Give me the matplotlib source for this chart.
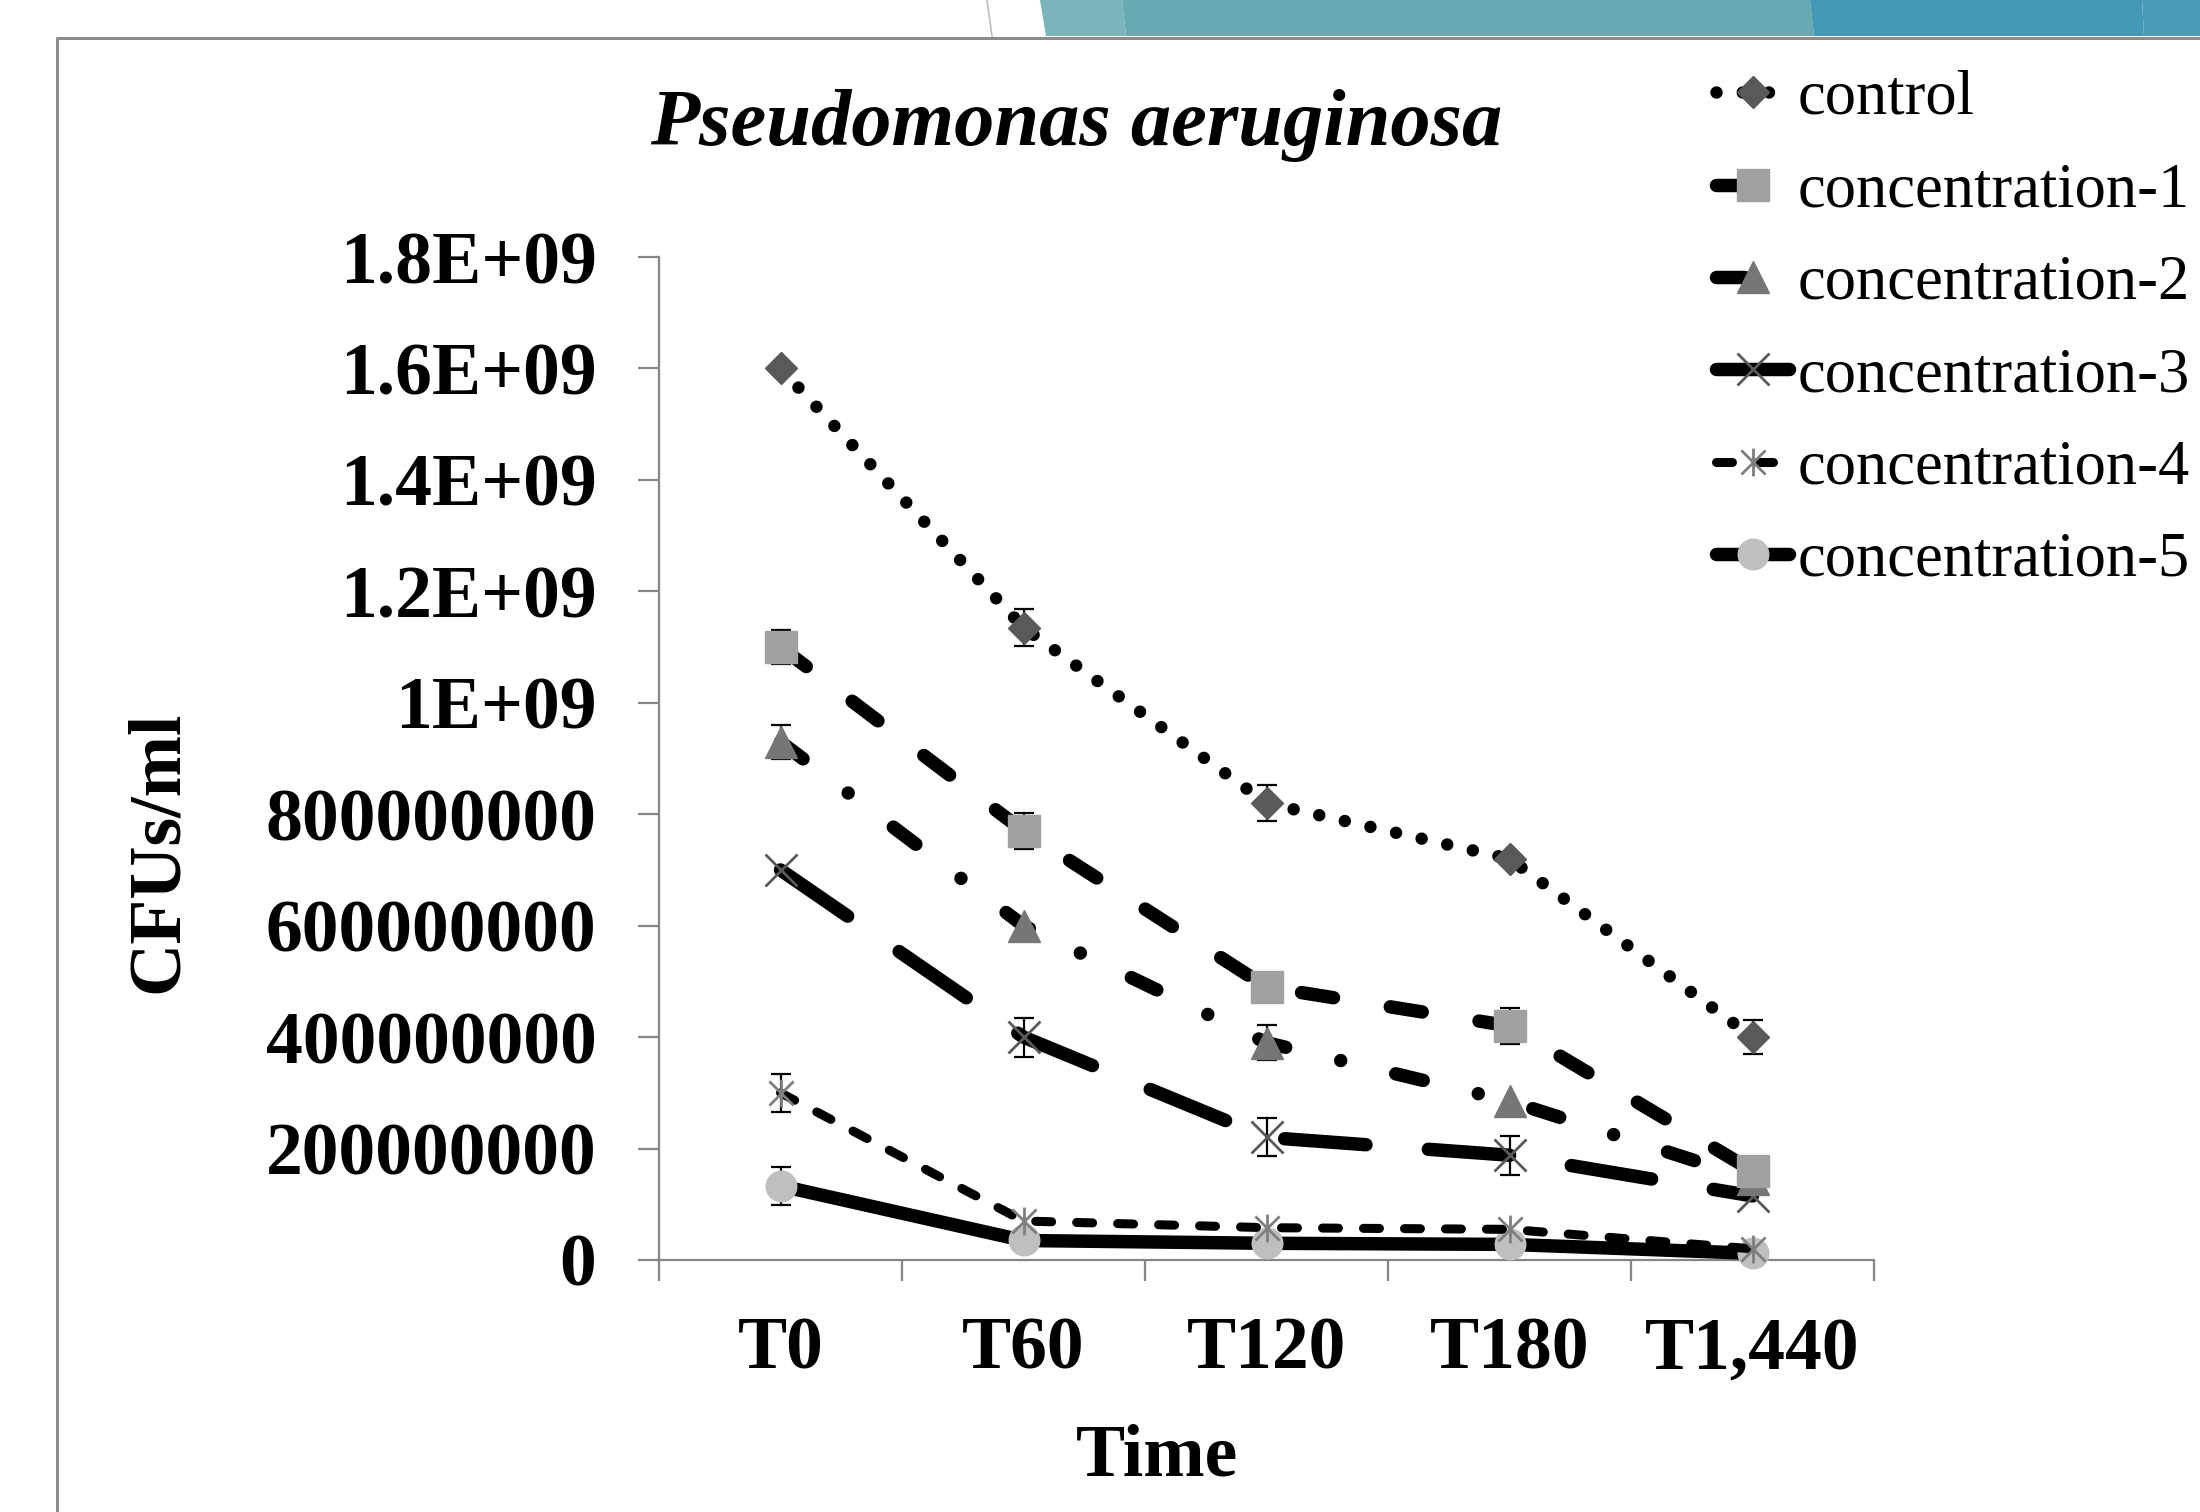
import numpy as np
import matplotlib
matplotlib.use("Agg")
import matplotlib.pyplot as plt
from matplotlib.patches import Polygon
from matplotlib.lines import Line2D
from matplotlib.path import Path

# data
times = ["T0", "T60", "T120", "T180", "T1,440"]
series_names = ["control", "concentration-1", "concentration-2",
                "concentration-3", "concentration-4", "concentration-5"]

control = [1.60e9, 1.135e9, 8.2e8, 7.2e8, 4.0e8]
conc1 = [1.10e9, 7.7e8, 4.9e8, 4.2e8, 1.6e8]
conc2 = [9.3e8, 6.0e8, 3.9e8, 2.85e8, 1.45e8]
conc3 = [7.0e8, 4.0e8, 2.2e8, 1.88e8, 1.15e8]
conc4 = [3.0e8, 7.0e7, 5.8e7, 5.5e7, 2.0e7]
conc5 = [1.33e8, 3.5e7, 3.0e7, 2.8e7, 1.2e7]

# error bars (0 = no bar drawn)
control_err = [0, 3.4e7, 3.3e7, 0, 3.1e7]
conc1_err = [3.0e7, 3.2e7, 0, 3.2e7, 0]
conc2_err = [3.0e7, 0, 3.1e7, 0, 0]
conc3_err = [0, 3.5e7, 3.4e7, 3.5e7, 0]
conc4_err = [3.4e7, 0, 0, 0, 0]
conc5_err = [3.4e7, 0, 0, 0, 0]

yticks = [0, 2e8, 4e8, 6e8, 8e8, 1e9, 1.2e9, 1.4e9, 1.6e9, 1.8e9]
ytick_labels = ["0", "200000000", "400000000", "600000000", "800000000",
                "1E+09", "1.2E+09", "1.4E+09", "1.6E+09", "1.8E+09"]

SERIF = "Liberation Serif"
W, H = 2200, 1512

fig = plt.figure(figsize=(22, 15.12), dpi=100, facecolor="white")


def px(x, y):
    return (x / W, 1 - y / H)


# slide decoration: banner and frame
def band(xs_top, xs_bot, color):
    pts = [px(xs_top[0], 0), px(xs_top[1], 0), px(xs_bot[1], 36), px(xs_bot[0], 36)]
    fig.patches.append(Polygon(pts, closed=True, transform=fig.transFigure,
                               facecolor=color, edgecolor="none", zorder=0))


band((1040, 1122), (1046, 1126), "#7ab5bb")
band((1122, 1810), (1126, 1814), "#69a9b1")
band((1810, 2142), (1814, 2144), "#4499b6")
band((2142, 2200), (2144, 2200), "#4a9cb8")
fig.lines.append(Line2D([987 / W, 992 / W], [1, 1 - 36 / H], transform=fig.transFigure,
                        color="#bdbdbd", lw=1.2))
fig.lines.append(Line2D([57 / W, 57 / W, 1.0], [0, 1 - 38 / H, 1 - 38 / H],
                        transform=fig.transFigure, color="#8c8c8c", lw=2.2))

ax = fig.add_axes([659 / W, 1 - 1260 / H, (1874 - 659) / W, (1260 - 257) / H])
ax.set_facecolor("none")

x = np.arange(len(times))

# excel-style star marker: an x with a vertical bar
star = Path([(-1, -1), (1, 1), (-1, 1), (1, -1), (0, -1.15), (0, 1.15)],
            [Path.MOVETO, Path.LINETO, Path.MOVETO, Path.LINETO, Path.MOVETO, Path.LINETO])

styles = [
    dict(lw=9, dashes=[0.001, 2.1], marker="D", ms=16.5, mfc="#595959", mec="#595959"),
    dict(lw=9.7, dashes=[2.4, 4.27], marker="s", ms=23, mfc="#a0a0a0", mec="#a0a0a0"),
    dict(lw=9.7, dashes=[2.1, 4.2, 0.001, 4.2], marker="^", ms=23, mfc="#767676", mec="#767676"),
    dict(lw=9.7, dashes=[6.05, 4.64], marker="x", ms=23, mfc="none", mec="#595959", mew=2),
    dict(lw=6.5, dashes=[1.77, 2.77], marker=star, ms=20, mfc="none", mec="#7f7f7f", mew=2),
    dict(lw=9.7, marker="o", ms=22, mfc="#bfbfbf", mec="#bfbfbf"),
]
values = [control, conc1, conc2, conc3, conc4, conc5]
errors = [control_err, conc1_err, conc2_err, conc3_err, conc4_err, conc5_err]

for i, (name, vals, errs, st) in enumerate(zip(series_names, values, errors, styles)):
    z = 10 - i
    ax.plot(x, vals, color="black", label=name, zorder=z, clip_on=False,
            dash_capstyle="round", solid_capstyle="round", **st)
    errs = np.array(errs)
    m = errs > 0
    if m.any():
        ax.errorbar(x[m], np.array(vals)[m], yerr=errs[m], fmt="none", ecolor="black",
                    elinewidth=1.6, capsize=7, capthick=1.6, zorder=z - 0.5, clip_on=False)

ax.set_xlim(-0.5, len(times) - 0.5)
ax.set_ylim(0, 1.8e9)
ax.set_yticks(yticks)
ax.set_yticklabels(ytick_labels)
ax.set_xticks(np.arange(len(times) + 1) - 0.5)
ax.set_xticklabels([])
ax.set_xticks(x, minor=True)
ax.set_xticklabels(times, minor=True)

for s in ["top", "right"]:
    ax.spines[s].set_visible(False)
for s in ["left", "bottom"]:
    ax.spines[s].set_color("#868686")
    ax.spines[s].set_linewidth(1.6)

ax.tick_params(axis="both", which="major", direction="out", length=15, width=1.6, color="#868686")
ax.tick_params(axis="y", pad=30)
ax.tick_params(axis="x", which="minor", length=0, pad=41)
for lab in ax.get_yticklabels() + ax.get_xticklabels(minor=True):
    lab.set_fontfamily(SERIF)
    lab.set_fontweight("bold")
    lab.set_fontsize(53)

fig.text(1076 / W, 1 - 145 / H, "Pseudomonas aeruginosa", fontsize=58, fontweight="bold",
         fontstyle="italic", family=SERIF, ha="center", va="baseline")
fig.text(1157 / W, 1 - 1476 / H, "Time", fontsize=53, fontweight="bold", family=SERIF,
         ha="center", va="baseline")
fig.text(159 / W, 1 - 852 / H, "CFUs/ml", fontsize=53, fontweight="bold", family=SERIF,
         ha="center", va="center", rotation=90)

fig.legend(loc="upper left", bbox_to_anchor=(1716 / W, 1 - 70 / H), frameon=False,
           prop={"family": SERIF, "size": 45}, handlelength=1.17, handletextpad=0.13,
           labelspacing=0.55, borderpad=0, borderaxespad=0, numpoints=1)

fig.savefig("out.png", dpi=100, facecolor="white")
